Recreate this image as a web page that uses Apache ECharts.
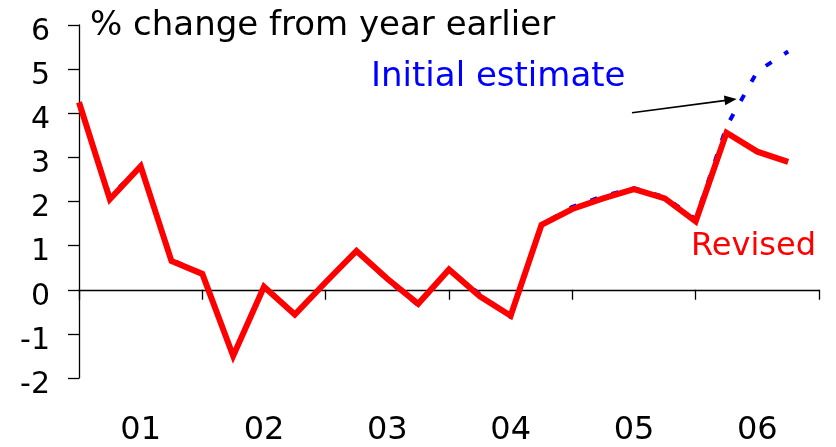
<!DOCTYPE html>
<html>
<head>
<meta charset="utf-8">
<script src="https://cdn.jsdelivr.net/npm/echarts@6/dist/echarts.min.js"></script>
<style>
  html, body { margin: 0; padding: 0; background: #fff; }
  #chart { width: 836px; height: 447px; }
</style>
</head>
<body>
<div id="chart"></div>
<script>
// Quarterly slots 2001 Q1 .. 2006 Q4, plus the closing slot at the axis end
const quarters = [
  '01Q1','01Q2','01Q3','01Q4','02Q1','02Q2','02Q3','02Q4',
  '03Q1','03Q2','03Q3','03Q4','04Q1','04Q2','04Q3','04Q4',
  '05Q1','05Q2','05Q3','05Q4','06Q1','06Q2','06Q3','06Q4','07Q1'
];
const yearLabels = ['01', '02', '03', '04', '05', '06'];

// % change from a year earlier
const revised = [
  4.25, 2.05, 2.8, 0.65, 0.36, -1.5, 0.07, -0.56,
  0.17, 0.88, 0.25, -0.32, 0.46, -0.15, -0.59, 1.47,
  1.83, 2.07, 2.28, 2.07, 1.55, 3.56, 3.13, 2.9
];
const initialEstimate = [
  4.2, 2.12, 2.78, 0.68, 0.36, -1.5, 0.07, -0.56,
  0.17, 0.88, 0.22, -0.35, 0.46, -0.1, -0.62, 1.47,
  1.88, 2.12, 2.3, 2.1, 1.6, 3.7, 4.95, 5.4
];
const yTicks = { min: -2, max: 6, step: 1 };

const FONT = '"DejaVu Sans", Verdana, sans-serif';

const chart = echarts.init(document.getElementById('chart'), null, { renderer: 'canvas' });

chart.setOption({
  animation: false,
  backgroundColor: '#ffffff',
  grid: { left: 79, top: 25, width: 740, height: 355, containLabel: false },
  xAxis: [
    {
      type: 'category',
      data: quarters,
      boundaryGap: false,
      axisLine: { onZero: true, lineStyle: { color: '#000', width: 1.3 } },
      axisTick: { show: true, interval: 3, length: 10, lineStyle: { color: '#000', width: 1.3 } },
      axisLabel: { show: false },
      splitLine: { show: false }
    },
    {
      type: 'category',
      data: yearLabels,
      position: 'bottom',
      boundaryGap: true,
      axisLine: { show: false, onZero: false },
      axisTick: { show: false },
      axisLabel: { show: true, color: '#000', fontSize: 32, fontFamily: FONT, margin: 37 },
      splitLine: { show: false }
    }
  ],
  yAxis: {
    type: 'value',
    min: yTicks.min,
    max: yTicks.max,
    interval: yTicks.step,
    axisLine: { show: true, lineStyle: { color: '#000', width: 1.3 } },
    axisTick: { show: true, length: 11, lineStyle: { color: '#000', width: 1.3 } },
    axisLabel: {
      margin: 29,
      formatter: '{n|{value}}',
      rich: { n: { color: '#000', fontSize: 30, fontFamily: FONT, padding: [14, 0, 0, 0] } }
    },
    splitLine: { show: false }
  },
  series: [
    {
      name: 'Initial estimate',
      type: 'line',
      xAxisIndex: 0,
      data: initialEstimate,
      showSymbol: false,
      symbol: 'none',
      lineStyle: { color: '#0000ff', width: 4, type: [7, 15] },
      z: 2
    },
    {
      name: 'Revised',
      type: 'line',
      xAxisIndex: 0,
      data: revised,
      showSymbol: false,
      symbol: 'none',
      lineStyle: { color: '#ff0000', width: 6, join: 'miter' },
      z: 3
    }
  ],
  graphic: [
    {
      type: 'text', left: 90, top: 9,
      style: { text: '% change from year earlier', font: '34px ' + FONT, fill: '#000' }
    },
    {
      type: 'text', left: 371, top: 60,
      style: { text: 'Initial estimate', font: '34px ' + FONT, fill: '#0000ff' }
    },
    {
      type: 'text', left: 691, top: 231,
      style: { text: 'Revised', font: '32px ' + FONT, fill: '#ff0000' }
    },
    {
      type: 'line',
      shape: { x1: 632, y1: 112.7, x2: 726, y2: 100.4 },
      style: { stroke: '#000', lineWidth: 1.6 }
    },
    {
      type: 'polygon',
      shape: { points: [[736.7, 99], [725.2, 105.2], [723.9, 95.6]] },
      style: { fill: '#000' }
    }
  ]
});
</script>
</body>
</html>
